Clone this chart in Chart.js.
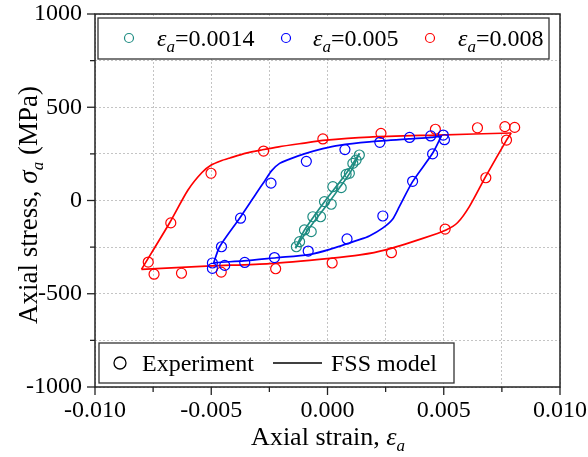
<!DOCTYPE html>
<html><head><meta charset="utf-8">
<script src="https://cdn.jsdelivr.net/npm/chart.js@4/dist/chart.umd.min.js"></script>
<style>html,body{margin:0;padding:0;background:#fff}canvas{display:block}</style>
</head><body>
<canvas id="c" width="588" height="457"></canvas>
<script>
const xTickLabels = ['-0.010','-0.005','0.000','0.005','0.010'];
const yTickLabels = ['-1000','-500','0','500','1000'];
const seriesNames = ['0.0014','0.005','0.008'];
const seriesColors = ['#1e8c82','#0000ff','#ff0000'];

// Experiment points [strain, stress (MPa)]
const exp0014 = [[-0.00134,-248],[-0.00099,-158],[-0.00063,-87],[-0.00013,-6],[0.00023,74],[0.00080,140],[0.00109,199],[0.00137,244],
                 [-0.00120,-221],[-0.00070,-167],[-0.00030,-87],[0.00016,-20],[0.00059,69],[0.00094,146],[0.00123,217]];
const exp005 = [[-0.00495,-335],[-0.00456,-248],[-0.00374,-95],[-0.00243,93],[-0.00091,210],[0.00075,273],[0.00225,312],[0.00353,338],
                [0.00444,346],[0.00498,351],[0.00503,326],[0.00452,250],[0.00366,103],[0.00238,-83],[0.00084,-206],[-0.00083,-271],
                [-0.00228,-306],[-0.00356,-332],[-0.00442,-348],[-0.00495,-364]];
const exp008 = [[-0.00771,-330],[-0.00674,-120],[-0.00501,146],[-0.00275,265],[-0.00020,330],[0.00230,360],[0.00464,382],[0.00645,390],
                [0.00763,396],[0.00805,392],[0.00770,324],[0.00681,122],[0.00506,-153],[0.00275,-280],[0.00020,-335],[-0.00223,-366],
                [-0.00457,-384],[-0.00628,-390],[-0.00746,-395]];

// FSS model branches [strain, stress (MPa)]
const model0014Up = [[-0.00138,-256],[-0.0010,-185],[-0.0005,-100],[0.0,-20],[0.0005,65],[0.0010,155],[0.00137,252]];
const model0014Down = [[0.00137,252],[0.0010,180],[0.0005,95],[0.0,15],[-0.0005,-70],[-0.0010,-160],[-0.00138,-256]];
const model005Up = [[-0.0049,-337],[-0.00464,-248],[-0.00378,-95],[-0.00306,39],[-0.0027,105],[-0.0024,160],[-0.00206,199],[-0.00163,222],
                    [-0.0010,250],[-0.0002,278],[0.0005,296],[0.0018,314],[0.0035,330],[0.00445,338],[0.0049,346]];
const model005Down = [[0.0049,346],[0.00452,253],[0.00366,101],[0.00309,-33],[0.0028,-100],[0.00237,-148],[0.0018,-190],[0.00137,-210],
                      [0.0001,-262],[-0.0008,-290],[-0.0022,-307],[-0.0036,-324],[-0.0048,-333],[-0.0049,-337]];
const model008Up = [[-0.0080,-369],[-0.0068,-122],[-0.0060,56],[-0.0054,150],[-0.0050,190],[-0.0046,212],[-0.0042,228],[-0.0035,254],
                    [-0.0028,272],[-0.0021,288],[-0.0010,308],[-0.0002,322],[0.0018,340],[0.0047,351],[0.0079,362]];
const model008Down = [[0.0079,362],[0.0077,324],[0.0068,128],[0.0061,-33],[0.0056,-118],[0.0051,-158],[0.0041,-203],[0.0025,-265],
                      [0.0014,-292],[0.0001,-310],[-0.0025,-338],[-0.0050,-351],[-0.0080,-369]];

const toXY = arr => arr.map(p => ({x:p[0], y:p[1]}));
const FONT = 'Liberation Serif';

function modelDs(data, color){
  return {type:'scatter', data:toXY(data), showLine:true, borderColor:color, backgroundColor:color,
          borderWidth:1.7, pointRadius:0, tension:0.25, order:2};
}
function expDs(data, color){
  return {type:'scatter', data:toXY(data), showLine:false, borderColor:color, backgroundColor:'rgba(0,0,0,0)',
          pointRadius:5, pointBorderWidth:1.2, pointStyle:'circle', order:1};
}

const datasets = [
  modelDs(model0014Up, seriesColors[0]), modelDs(model0014Down, seriesColors[0]),
  modelDs(model005Up, seriesColors[1]), modelDs(model005Down, seriesColors[1]),
  modelDs(model008Up, seriesColors[2]), modelDs(model008Down, seriesColors[2]),
  expDs(exp0014, seriesColors[0]), expDs(exp005, seriesColors[1]), expDs(exp008, seriesColors[2])
];

function isMult(v, step, base){ const i = Math.round((v-base)/step); return Math.abs(v-(base+i*step)) < step*1e-6 ? i : -1; }

const framePlugin = {
  id:'frame',
  afterDatasetsDraw(chart){
    const {ctx, chartArea:a, scales} = chart;
    const xs = scales.x, ys = scales.y;
    ctx.save();
    ctx.strokeStyle = '#222'; ctx.lineWidth = 1.5;
    ctx.strokeRect(a.left, a.top, a.right-a.left, a.bottom-a.top);
    ctx.lineWidth = 1.3;
    xs.ticks.forEach(t => {
      const px = xs.getPixelForValue(t.value);
      const major = isMult(t.value, 0.005, -0.01) >= 0;
      ctx.beginPath(); ctx.moveTo(px, a.bottom); ctx.lineTo(px, a.bottom + (major?8:5)); ctx.stroke();
    });
    ys.ticks.forEach(t => {
      const py = ys.getPixelForValue(t.value);
      const major = isMult(t.value, 500, -1000) >= 0;
      ctx.beginPath(); ctx.moveTo(a.left, py); ctx.lineTo(a.left - (major?8:5), py); ctx.stroke();
    });
    ctx.restore();
  },
  afterDraw(chart){
    const ctx = chart.ctx;
    ctx.save();
    const main = '26px "'+FONT+'"', ital = 'italic 26px "'+FONT+'"', sub = 'italic 17px "'+FONT+'"';
    function richWidth(parts){ let w=0; parts.forEach(p=>{ctx.font=p[1]; w+=ctx.measureText(p[0]).width;}); return w; }
    function richDraw(parts, x, y){ parts.forEach(p=>{ctx.font=p[1]; ctx.fillText(p[0], x, y+(p[2]||0)); x+=ctx.measureText(p[0]).width;}); return x; }
    ctx.fillStyle = '#000'; ctx.textBaseline = 'alphabetic'; ctx.textAlign = 'left';
    const xt = [['Axial strain, ',main],['\u03b5',ital],['a',sub,6]];
    richDraw(xt, 328 - richWidth(xt)/2, 445);
    const ytMain = '27px "'+FONT+'"', ytItal = 'italic 27px "'+FONT+'"';
    const yt = [['Axial stress, ',ytMain],['\u03c3',ytItal],['a',sub,6],[' (MPa)',ytMain]];
    ctx.save(); ctx.translate(37, 205); ctx.rotate(-Math.PI/2);
    richDraw(yt, -richWidth(yt)/2, 0);
    ctx.restore();

    // top legend
    ctx.fillStyle = '#fff'; ctx.fillRect(98, 18, 451, 41);
    ctx.strokeStyle = '#333'; ctx.lineWidth = 1.3; ctx.strokeRect(98, 18, 451, 41);
    const lf = '24px "'+FONT+'"', li = 'italic 24px "'+FONT+'"', ls = 'italic 17px "'+FONT+'"';
    const legX = [[129,157],[286,313],[430,458]];
    seriesNames.forEach((n,i) => {
      ctx.strokeStyle = seriesColors[i]; ctx.lineWidth = 1.2;
      ctx.beginPath(); ctx.arc(legX[i][0], 38, 4.5, 0, Math.PI*2); ctx.stroke();
      ctx.fillStyle = '#000';
      richDraw([['\u03b5',li],['a',ls,6],['='+n,lf]], legX[i][1], 46);
    });
    // bottom legend
    ctx.fillStyle = '#fff'; ctx.fillRect(99, 343, 355, 40);
    ctx.strokeStyle = '#333'; ctx.lineWidth = 1.3; ctx.strokeRect(99, 343, 355, 40);
    ctx.strokeStyle = '#000'; ctx.lineWidth = 1.3;
    ctx.beginPath(); ctx.arc(120, 363, 6, 0, Math.PI*2); ctx.stroke();
    ctx.lineWidth = 1.5; ctx.beginPath(); ctx.moveTo(273, 363); ctx.lineTo(322, 363); ctx.stroke();
    ctx.fillStyle = '#000'; ctx.font = '24px "'+FONT+'"';
    ctx.fillText('Experiment', 142, 371);
    ctx.fillText('FSS model', 331, 371);
    ctx.restore();
  }
};

new Chart(document.getElementById('c'), {
  type:'scatter',
  data:{datasets},
  options:{
    responsive:false, animation:false, devicePixelRatio:1,
    layout:{padding:{top:14, right:28, left:0, bottom:0}},
    plugins:{legend:{display:false}, tooltip:{enabled:false}},
    scales:{
      x:{type:'linear', min:-0.01, max:0.01,
         ticks:{stepSize:0.0025, padding:9, color:'#000', font:{family:FONT, size:24}, maxRotation:0, autoSkip:false,
                callback:(v)=>{ const i = isMult(v,0.005,-0.01); return i>=0 ? xTickLabels[i] : ''; }},
         grid:{color:'#c4c4c4', lineWidth:1, drawTicks:false},
         border:{display:false, dash:[2,2]},
         afterFit:(s)=>{ s.height = 70; s.paddingLeft = 0; s.paddingRight = 0; }},
      y:{type:'linear', min:-1000, max:1000,
         ticks:{stepSize:250, padding:13, color:'#000', font:{family:FONT, size:24}, autoSkip:false,
                callback:(v)=>{ const i = isMult(v,500,-1000); return i>=0 ? yTickLabels[i] : ''; }},
         grid:{color:'#c4c4c4', lineWidth:1, drawTicks:false},
         border:{display:false, dash:[2,2]},
         afterFit:(s)=>{ s.width = 95; s.paddingTop = 0; s.paddingBottom = 0; }}
    }
  },
  plugins:[framePlugin]
});
</script>
</body></html>
